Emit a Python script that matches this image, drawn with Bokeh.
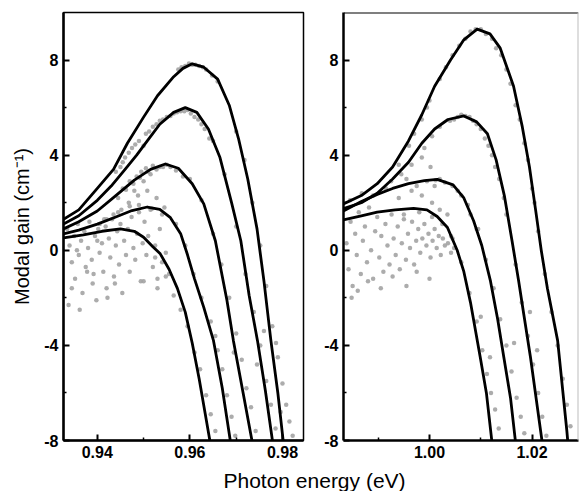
from bokeh.plotting import figure
from bokeh.layouts import column, row
from bokeh.models import Range1d, FixedTicker, Span
from bokeh.embed import file_html
from bokeh.resources import INLINE
from bokeh.core.properties import value

# ---------------- data ----------------
y_label = "Modal gain (cm\u207b\u00b9)"
x_label = "Photon energy (eV)"
y_ticks = [-8, -4, 0, 4, 8]
y_minor = [-6, -2, 2, 6]
left_xticks = [0.94, 0.96, 0.98]
left_xminor = [0.95, 0.97]
right_xticks = [1.00, 1.02]
right_xminor = [0.99, 1.01]

# left panel fitted curves
L1_E = [0.9327, 0.936, 0.940, 0.9435, 0.9465, 0.950, 0.953, 0.9565, 0.9585, 0.9605, 0.963, 0.966, 0.9685, 0.9705, 0.9725, 0.9745, 0.976, 0.9775, 0.979, 0.9802]
L1_G = [1.3, 1.7, 2.6, 3.4, 4.5, 5.6, 6.5, 7.3, 7.65, 7.84, 7.7, 7.2, 6.1, 4.7, 3.0, 0.9, -1.3, -3.8, -6.0, -8.1]
L2_E = [0.9327, 0.936, 0.940, 0.943, 0.946, 0.9485, 0.951, 0.9535, 0.9565, 0.959, 0.9615, 0.964, 0.9665, 0.969, 0.971, 0.9728, 0.9746, 0.9763, 0.9779]
L2_G = [1.1, 1.45, 2.1, 2.7, 3.4, 4.0, 4.65, 5.3, 5.8, 6.0, 5.8, 5.1, 3.9, 2.0, 0.4, -1.9, -3.8, -5.9, -8.1]
L3_E = [0.9327, 0.936, 0.940, 0.944, 0.948, 0.9515, 0.9547, 0.9575, 0.9605, 0.963, 0.9655, 0.968, 0.9694, 0.9715, 0.9735]
L3_G = [0.9, 1.2, 1.65, 2.3, 2.95, 3.4, 3.63, 3.45, 2.8, 1.95, 0.4, -2.1, -3.8, -6.0, -8.1]
L4_E = [0.9327, 0.936, 0.940, 0.944, 0.9475, 0.9508, 0.9535, 0.9558, 0.958, 0.9595, 0.961, 0.963, 0.9651, 0.967, 0.9688]
L4_G = [0.69, 0.85, 1.1, 1.4, 1.67, 1.82, 1.72, 1.37, 0.7, -0.2, -1.2, -2.4, -3.8, -5.8, -8.1]
L5_E = [0.9327, 0.937, 0.941, 0.945, 0.948, 0.950, 0.952, 0.9536, 0.9555, 0.9573, 0.959, 0.9605, 0.962, 0.9644]
L5_G = [0.52, 0.65, 0.8, 0.9, 0.8, 0.55, 0.15, -0.15, -0.8, -1.6, -2.6, -3.9, -5.4, -8.1]

# right panel fitted curves
R1_E = [0.9832, 0.9867, 0.9898, 0.9928, 0.9959, 0.9985, 1.0010, 1.0041, 1.0067, 1.0093, 1.0118, 1.0138, 1.0164, 1.0181, 1.0195, 1.0207, 1.0218, 1.0230, 1.0250, 1.0268, 1.0270]
R1_G = [1.95, 2.3, 2.8, 3.5, 4.6, 5.7, 6.9, 8.0, 8.85, 9.3, 9.1, 8.5, 6.9, 5.2, 3.5, 1.7, 0.0, -1.6, -3.8, -7.6, -8.1]
R2_E = [0.9832, 0.9867, 0.9898, 0.9928, 0.9959, 0.9985, 1.0010, 1.0036, 1.0067, 1.0092, 1.0113, 1.0130, 1.0146, 1.0161, 1.0174, 1.0184, 1.0197, 1.0220]
R2_G = [1.75, 2.0, 2.4, 3.0, 3.7, 4.5, 5.1, 5.5, 5.65, 5.4, 4.9, 3.8, 2.3, 0.4, -1.3, -2.7, -4.5, -8.1]
R3_E = [0.9832, 0.9867, 0.9898, 0.9928, 0.9959, 0.9990, 1.0015, 1.0046, 1.0067, 1.0086, 1.0102, 1.0119, 1.0133, 1.0145, 1.0158, 1.0168]
R3_G = [1.65, 2.05, 2.35, 2.6, 2.8, 2.93, 2.98, 2.75, 2.2, 1.24, 0.2, -1.3, -2.9, -4.5, -6.2, -8.1]
R4_E = [0.9832, 0.9867, 0.9898, 0.9933, 0.9969, 0.9995, 1.0015, 1.0035, 1.0054, 1.0067, 1.0080, 1.0099, 1.0111, 1.0122]
R4_G = [1.28, 1.45, 1.6, 1.7, 1.76, 1.7, 1.42, 0.96, 0.0, -0.9, -2.2, -4.5, -6.0, -8.1]

# left panel measured points
left_pts_E = [
    0.9335, 0.9340, 0.9345, 0.9350, 0.9352, 0.9358, 0.9360, 0.9365, 0.9368, 0.9372, 0.9375, 0.9380, 0.9383, 0.9388,
    0.9390, 0.9395, 0.9398, 0.9402, 0.9405, 0.9410, 0.9413, 0.9418, 0.9420, 0.9425, 0.9428, 0.9432, 0.9436, 0.9440,
    0.9443, 0.9447, 0.9450, 0.9454, 0.9458, 0.9462, 0.9466, 0.9470, 0.9474, 0.9478, 0.9482, 0.9486, 0.9490, 0.9494,
    0.9498, 0.9502, 0.9506, 0.9510, 0.9515, 0.9520, 0.9525, 0.9530, 0.9535, 0.9540, 0.9548, 0.9555, 0.9338, 0.9345,
    0.9362, 0.9392, 0.9422, 0.9438, 0.9356, 0.9378, 0.9400, 0.9415, 0.9445, 0.9468, 0.9488, 0.9508, 0.9528, 0.9545,
    0.9455, 0.9470, 0.9485, 0.9495, 0.9505, 0.9520, 0.9535, 0.9550, 0.9500, 0.9515, 0.9480,
    0.9440, 0.9460, 0.9475, 0.9490, 0.9505, 0.9520, 0.9535, 0.9550, 0.9565, 0.9580, 0.9595, 0.9610, 0.9625, 0.9500, 0.9450,
    0.9575, 0.9590, 0.9605, 0.9620, 0.9635, 0.9648, 0.9660,
    0.9700, 0.9718, 0.9735, 0.9752, 0.9765, 0.9778, 0.9790, 0.9800, 0.9808, 0.9815, 0.9822, 0.9796, 0.9786,
    0.9650, 0.9675, 0.9700, 0.9720, 0.9738, 0.9752, 0.9765, 0.9775, 0.9785, 0.9760, 0.9745,
    0.9600, 0.9625, 0.9650, 0.9668, 0.9685, 0.9700, 0.9712, 0.9722, 0.9732, 0.9742, 0.9695,
    0.9570, 0.9590, 0.9608, 0.9625, 0.9645, 0.9660, 0.9670, 0.9680, 0.9690, 0.9698, 0.9655,
    0.9525, 0.9548, 0.9565, 0.9580, 0.9595, 0.9610, 0.9622, 0.9635, 0.9645, 0.9655, 0.9500, 0.9530,
    0.9455, 0.9468, 0.9482, 0.9512, 0.9528, 0.9542, 0.9558, 0.9572, 0.9588, 0.9602, 0.9618, 0.9632, 0.9642,
    0.9445, 0.9462, 0.9478, 0.9492, 0.9510, 0.9528, 0.9542, 0.9558, 0.9570, 0.9585,
    0.9405, 0.9420, 0.9435, 0.9452, 0.9470, 0.9490, 0.9518, 0.9540,
    0.9598, 0.9612, 0.9582, 0.9628,
]
left_pts_G = [
    0.9, 0.2, -0.5, 0.6, -1.2, 1.1, -0.2, 0.4, -1.8, 0.8, -0.7, 0.1, 1.2, -0.4,
    -1.4, 0.6, -2.1, 0.9, -0.1, 0.3, -0.9, 1.0, -1.6, 0.5, -0.3, 1.3, -1.1, 0.2,
    0.8, -0.6, 1.1, -1.8, 0.4, -0.2, 0.9, -0.9, 1.4, 0.1, -0.4, 0.7, 1.6, -1.3,
    0.3, 1.2, -0.2, 0.6, 1.7, -0.7, 0.2, -1.2, 0.9, -0.5, -0.1, -1.0, -2.3, -1.6,
    -2.5, -1.0, -2.0, -1.4, 0.0, -0.9, 0.4, 1.3, 1.6, 2.0, 2.3, 2.5, 2.2, 1.8,
    2.6, 2.9, 3.1, 3.3, 3.45, 3.55, 3.5, 3.6, 2.9, 3.2, 2.5,
    3.3, 3.9, 4.3, 4.6, 4.9, 5.2, 5.45, 5.6, 5.75, 5.85, 5.9, 5.6, 5.3, 4.4, 3.5,
    7.6, 7.75, 7.8, 7.75, 7.6, 7.35, 7.1,
    5.0, 3.8, 2.0, 0.2, -1.5, -3.2, -4.5, -5.6, -6.5, -7.2, -7.8, -6.8, -3.9,
    4.6, 3.2, 1.0, -1.0, -2.6, -4.0, -5.5, -6.5, -7.5, -3.4, -4.8,
    3.0, 2.1, 0.7, -0.6, -2.0, -3.5, -4.6, -5.8, -6.6, -7.6, -4.3,
    1.1, 0.2, -1.0, -2.0, -3.0, -4.2, -5.0, -6.1, -7.0, -7.8, -3.6,
    -0.3, -1.1, -1.9, -2.5, -3.2, -4.3, -5.0, -6.1, -6.9, -7.6, -1.3, -1.6,
    3.7, 4.1, 4.45, 5.0, 5.3, 5.5, 5.65, 5.8, 5.85, 5.75, 5.5, 5.1, 4.7,
    2.2, 2.55, 2.8, 3.05, 3.3, 3.4, 3.5, 3.5, 3.35, 3.1,
    1.1, 1.3, 1.5, 1.7, 1.85, 1.9, 1.75, 1.5,
    7.85, 7.8, 7.7, 7.7,
]

# right panel measured points
right_pts_E = [
    0.9838, 0.9842, 0.9846, 0.9850, 0.9855, 0.9858, 0.9862, 0.9866, 0.9870, 0.9874, 0.9878, 0.9882, 0.9886, 0.9890,
    0.9894, 0.9898, 0.9902, 0.9906, 0.9910, 0.9914, 0.9918, 0.9922, 0.9926, 0.9930, 0.9934, 0.9938, 0.9942, 0.9946,
    0.9950, 0.9954, 0.9958, 0.9962, 0.9966, 0.9970, 0.9974, 0.9978, 0.9982, 0.9986, 0.9990, 0.9994, 0.9998, 1.0002,
    1.0006, 1.0010, 1.0014, 1.0018, 1.0022, 1.0026, 1.0030, 1.0036, 1.0042, 1.0048, 0.9848, 0.9860, 0.9880, 0.9905,
    0.9928, 0.9955, 0.9975, 1.0000, 0.9845, 0.9868, 0.9890, 0.9915, 0.9940, 0.9965, 0.9985, 1.0005, 1.0020, 1.0035,
    0.9925, 0.9945, 0.9965, 0.9985, 1.0002, 1.0020, 0.9955, 1.0010,
    0.9970, 0.9995, 1.0020, 1.0045, 1.0070, 1.0090, 1.0110, 1.0130, 1.0150, 1.0168, 1.0185,
    1.0040, 1.0055, 1.0070, 1.0085, 1.0100, 1.0115, 1.0128,
    1.0055, 1.0075, 1.0095, 1.0110, 1.0125, 1.0138, 1.0150, 1.0160, 1.0170, 1.0178, 1.0185, 1.0165,
    1.0045, 1.0062, 1.0078, 1.0092, 1.0103, 1.0112, 1.0120, 1.0128, 1.0135, 1.0100, 1.0118,
    1.0150, 1.0168, 1.0180, 1.0192, 1.0202, 1.0212, 1.0220, 1.0228, 1.0196, 1.0210,
    1.0200, 1.0212, 1.0225, 1.0238, 1.0250, 1.0260, 1.0268, 1.0275,
    0.9985, 1.0000, 1.0032, 1.0058, 1.0080, 1.0100, 1.0122, 1.0140, 1.0158, 1.0176, 1.0192, 1.0205, 0.9960, 0.9940,
    0.9990, 1.0005, 1.0020, 1.0048, 1.0062, 1.0078, 1.0092, 1.0108, 1.0122, 1.0136, 1.0145,
    0.9975, 0.9995, 1.0012, 1.0030, 1.0045, 1.0062, 1.0080, 1.0092,
    0.9950, 0.9980, 1.0005, 1.0025, 1.0042,
]
right_pts_G = [
    0.3, -0.8, 1.2, -1.5, 0.7, -0.2, 1.6, -1.0, 0.4, 1.0, -0.5, 1.8, 0.0, -1.2,
    0.8, 1.4, -0.3, 0.6, -0.9, 1.1, 0.2, -0.6, 1.5, 0.5, -0.2, 1.0, -0.8, 0.3,
    1.3, -0.4, 0.7, 0.1, 1.2, -0.6, 0.4, 0.9, -0.1, 0.5, 1.1, 0.2, 0.7, -0.3,
    0.4, 0.9, 0.1, 0.6, -0.2, 0.5, 0.2, 0.3, -0.1, 0.1, -2.0, -1.7, -1.3, -1.6,
    -1.1, -1.5, -0.9, -1.2, 2.1, 2.4, 2.3, 2.6, 2.2, 2.5, 2.3, 2.0, 1.7, 1.5,
    2.9, 3.2, 3.6, 3.9, 3.5, 3.0, 3.0, 2.7,
    4.9, 6.0, 7.2, 8.2, 8.9, 9.3, 9.1, 8.5, 7.6, 6.1, 4.5,
    5.45, 5.6, 5.65, 5.45, 5.1, 4.4, 3.5,
    2.5, 1.9, 0.9, -0.4, -1.6, -2.9, -4.0, -5.1, -6.2, -7.0, -7.7, -3.9,
    0.5, -0.5, -1.8, -3.0, -4.2, -5.2, -6.0, -6.7, -7.5, -2.8, -4.5,
    1.5, -0.6, -2.2, -3.6, -4.8, -6.0, -7.0, -7.8, -2.6, -4.2,
    2.6, 0.8, -1.0, -2.6, -4.0, -5.4, -6.5, -7.4,
    5.5, 6.3, 7.7, 8.6, 9.2, 9.3, 8.9, 8.2, 7.0, 5.5, 3.8, 2.0, 4.4, 3.6,
    4.3, 4.8, 5.2, 5.5, 5.7, 5.6, 5.3, 4.7, 4.0, 3.0, 2.2,
    2.7, 2.9, 2.95, 2.85, 2.7, 2.3, 1.5, 0.9,
    1.5, 1.6, 1.4, 1.1, 0.6,
]

# ---------------- styling helpers ----------------
FONT = "Liberation Sans"
PT_COLOR = "#a3a3a3"


def style_axes(p, xticks, xminor):
    p.xgrid.visible = False
    p.ygrid.visible = False
    p.xaxis.ticker = FixedTicker(ticks=xticks, minor_ticks=xminor)
    p.yaxis.ticker = FixedTicker(ticks=y_ticks, minor_ticks=y_minor)
    p.xaxis.major_label_overrides = {t: "%.2f" % t for t in xticks}
    p.yaxis.major_label_overrides = {t: "%d" % t for t in y_ticks}
    for ax in (p.xaxis, p.yaxis):
        ax.axis_line_width = 2.5
        ax.axis_line_color = "black"
        ax.major_tick_in = 6
        ax.major_tick_out = 0
        ax.minor_tick_in = 3
        ax.minor_tick_out = 0
        ax.major_tick_line_width = 2
        ax.minor_tick_line_width = 1.5
        ax.major_label_text_font = FONT
        ax.major_label_text_font_style = "bold"
        ax.major_label_text_font_size = "16px"
        ax.major_label_text_color = "black"
    p.xaxis.major_label_standoff = 5
    p.yaxis.major_label_standoff = 5


def draw(p, curves, pe, pg):
    p.scatter(pe, pg, size=4.5, marker="circle", fill_color=PT_COLOR, line_color=None, alpha=0.9)
    for ce, cg in curves:
        p.line(ce, cg, line_color="black", line_width=2.8, line_join="round")


H = 468
pL = figure(width=308, height=H, x_range=Range1d(0.9327, 0.98454), y_range=Range1d(-8, 10),
            toolbar_location=None, output_backend="svg",
            min_border_left=63, min_border_right=5, min_border_top=12, min_border_bottom=28)
style_axes(pL, left_xticks, left_xminor)
pL.outline_line_color = "black"
pL.outline_line_width = 1.5
pL.yaxis.axis_label = y_label
pL.yaxis.axis_label_text_font = FONT
pL.yaxis.axis_label_text_font_style = "normal"
pL.yaxis.axis_label_text_font_size = "20px"
pL.yaxis.axis_label_text_color = "black"
pL.yaxis.axis_label_standoff = 8
draw(pL, [(L1_E, L1_G), (L2_E, L2_G), (L3_E, L3_G), (L4_E, L4_G), (L5_E, L5_G)], left_pts_E, left_pts_G)

pR = figure(width=272, height=H, x_range=Range1d(0.98322, 1.02907), y_range=Range1d(-8, 10),
            toolbar_location=None, output_backend="svg",
            min_border_left=35, min_border_right=2, min_border_top=12, min_border_bottom=28)
style_axes(pR, right_xticks, right_xminor)
pR.outline_line_color = None
pR.add_layout(Span(location=10, dimension="width", line_color="black", line_width=2))
pR.add_layout(Span(location=1.02907, dimension="height", line_color="#bdbdbd", line_width=2))
draw(pR, [(R1_E, R1_G), (R2_E, R2_G), (R3_E, R3_G), (R4_E, R4_G)], right_pts_E, right_pts_G)

pX = figure(width=580, height=23, x_range=Range1d(0, 580), y_range=Range1d(0, 23),
            toolbar_location=None, output_backend="svg", min_border=0)
pX.axis.visible = False
pX.xgrid.visible = False
pX.ygrid.visible = False
pX.outline_line_color = None
pX.text(x=[314], y=[11.5], text=[x_label], text_font=value(FONT), text_font_size="21px",
        text_align="center", text_baseline="middle", text_color="black")

layout = column(row(pL, pR), pX)
open("out.html", "w").write(file_html(layout, INLINE))
